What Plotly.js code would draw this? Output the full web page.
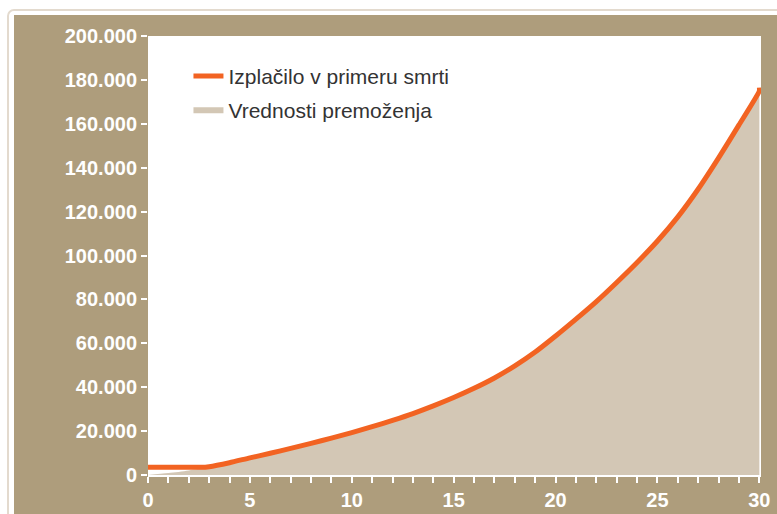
<!DOCTYPE html>
<html>
<head>
<meta charset="utf-8">
<script src="https://cdn.plot.ly/plotly-3.0.1.min.js"></script>
<style>
  html, body { margin:0; padding:0; background:#ffffff; width:777px; height:514px; overflow:hidden; }
  #frame { position:absolute; left:7px; top:9px; width:800px; height:540px; border:2px solid #e3dace; border-radius:7px; box-sizing:border-box; }
  #chart { position:absolute; left:14px; top:15px; width:763px; height:499px; }
</style>
</head>
<body>
<div id="frame"></div>
<div id="chart"></div>
<script>
// Years
const years = [0,1,2,3,4,5,6,7,8,9,10,11,12,13,14,15,16,17,18,19,20,21,22,23,24,25,26,27,28,29,30];
// Vrednosti premoženja (asset value)
const assetValues = [0,900,2100,3600,5600,7800,9900,12100,14400,16800,19300,22000,24900,28000,31500,35300,39500,44200,49700,56000,63300,71000,79000,87700,96800,106600,117600,130300,144500,159500,175000];
// Izplačilo v primeru smrti (death benefit)
const payoutYears = [0,1,2,2.6,3,4,5,6,7,8,9,10,11,12,13,14,15,16,17,18,19,20,21,22,23,24,25,26,27,28,29,30,30];
const payoutValues = [3500,3500,3500,3500,3800,5600,7800,9900,12100,14400,16800,19300,22000,24900,28000,31500,35300,39500,44200,49700,56000,63300,71000,79000,87700,96800,106600,117600,130300,144500,159500,175000,176500];

const seriesNames = ['Izplačilo v primeru smrti', 'Vrednosti premoženja'];

const brown = '#ae9d7c';
const tickFont = {family:'Liberation Sans, Arial, sans-serif', size:20, color:'#ffffff', weight:'bold'};

const traces = [
  {
    x: years, y: assetValues, type:'scatter', mode:'none',
    fill:'tozeroy', fillcolor:'#d3c7b5', name: seriesNames[1], legendrank: 2, legendgroup:'b',
    line:{shape:'spline', smoothing:0.8},
    hoverinfo:'skip'
  },
  {
    x: payoutYears, y: payoutValues, type:'scatter', mode:'lines',
    line:{color:'#f26322', width:5, shape:'spline', smoothing:0.6}, name: seriesNames[0], legendrank: 1, legendgroup:'a',
    hoverinfo:'skip'
  }
];

const layout = {
  width:763, height:499,
  margin:{l:134, r:16, t:21, b:39, pad:0},
  paper_bgcolor: brown,
  plot_bgcolor:'#ffffff',
  separators:',.',
  showlegend:true,
  legend:{
    x:0.066, y:0.955, xanchor:'left', yanchor:'top',
    bgcolor:'rgba(0,0,0,0)',
    font:{family:'Liberation Sans, Arial, sans-serif', size:21, color:'#333333'},
    itemwidth:30, tracegroupgap:4
  },
  xaxis:{
    range:[0,30.08], dtick:5, tick0:0,
    showgrid:false, zeroline:false,
    showline:true, linecolor:'#ffffff', linewidth:2,
    ticks:'outside', ticklen:6, tickwidth:2, tickcolor:'#ffffff',
    minor:{dtick:1, ticks:'outside', ticklen:6, tickwidth:2, tickcolor:'#ffffff', showgrid:false},
    tickfont: tickFont, fixedrange:true
  },
  yaxis:{
    range:[0,200000], dtick:20000, tick0:0,
    showgrid:false, zeroline:false, showline:false,
    ticks:'outside', ticklen:6, tickwidth:2, tickcolor:'#ffffff',
    tickformat:',d',
    tickfont: tickFont, fixedrange:true
  }
};

Plotly.newPlot('chart', traces, layout, {displayModeBar:false, staticPlot:true});
</script>
</body>
</html>
